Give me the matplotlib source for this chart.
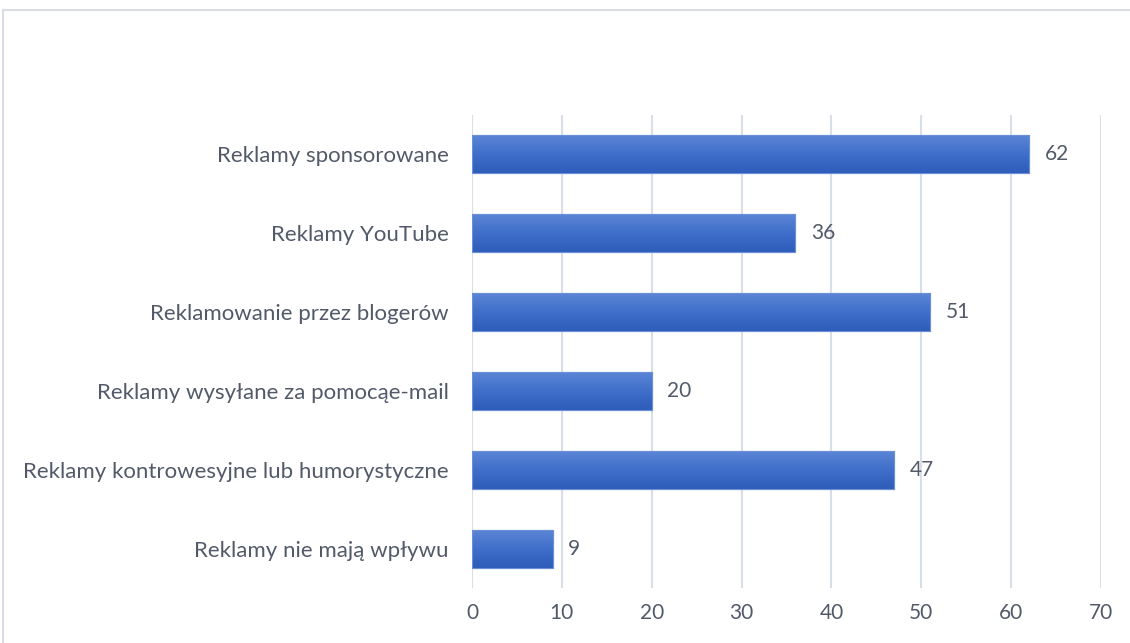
import numpy as np
import matplotlib.pyplot as plt
from matplotlib.patches import Rectangle
from matplotlib.colors import LinearSegmentedColormap

categories = [
    "Reklamy sponsorowane",
    "Reklamy YouTube",
    "Reklamowanie przez blogerów",
    "Reklamy wysyłane za pomocąe-mail",
    "Reklamy kontrowesyjne lub humorystyczne",
    "Reklamy nie mają wpływu",
]
values = [62, 36, 51, 20, 47, 9]
x_ticks = [0, 10, 20, 30, 40, 50, 60, 70]

TEXT = '#525a69'
GRID = '#d9dfe9'

plt.rcParams['font.family'] = ['Lato', 'DejaVu Sans']

fig = plt.figure(figsize=(11.3, 6.43), dpi=100)
fig.patch.set_facecolor('white')

# thin frame around the chart area
fig.patches.append(Rectangle((3 / 1130, -0.1), 1.2, 1.1 - 10 / 643,
                             transform=fig.transFigure, fill=False,
                             edgecolor='#d9dce3', linewidth=1.5))

ax = fig.add_axes([472 / 1130, 1 - 588 / 643, 629 / 1130, 473 / 643])

y = np.arange(len(categories))
bars = ax.barh(y, values, height=0.48, color='#4070c8',
               edgecolor='#6b90d8', linewidth=0.8, zorder=3)

# vertical gradient fill on every bar
grad = np.linspace(0, 1, 256).reshape(-1, 1)
cmap = LinearSegmentedColormap.from_list('bar', ['#5c85d5', '#3f6fca', '#2d5cb9'])
for b in bars:
    x0, y0 = b.get_x(), b.get_y()
    w, h = b.get_width(), b.get_height()
    im = ax.imshow(grad, cmap=cmap, aspect='auto', origin='upper',
                   extent=(x0, x0 + w, y0 + h, y0), zorder=3.5,
                   interpolation='bilinear')
    im.set_clip_path(b)
    ax.add_patch(Rectangle((x0, y0), w, h, fill=False,
                           edgecolor='#6b90d8', linewidth=0.8, zorder=4))

for yi, v in zip(y, values):
    ax.annotate(str(v), (v, yi), xytext=(11, 0), textcoords='offset points',
                va='center', ha='left', fontsize=15, color=TEXT)

ax.set_xlim(0, 70)
ax.set_ylim(len(categories) - 0.5, -0.5)
ax.set_xticks(x_ticks)
ax.set_yticks(y)
ax.set_yticklabels(categories)
ax.tick_params(axis='both', length=0, labelsize=15, colors=TEXT)
ax.tick_params(axis='y', pad=17, labelsize=16)
ax.tick_params(axis='x', pad=11)
ax.grid(axis='x', color=GRID, linewidth=1.5, zorder=0)
ax.set_axisbelow(True)
for s in ax.spines.values():
    s.set_visible(False)

plt.savefig('out.png', dpi=100)
